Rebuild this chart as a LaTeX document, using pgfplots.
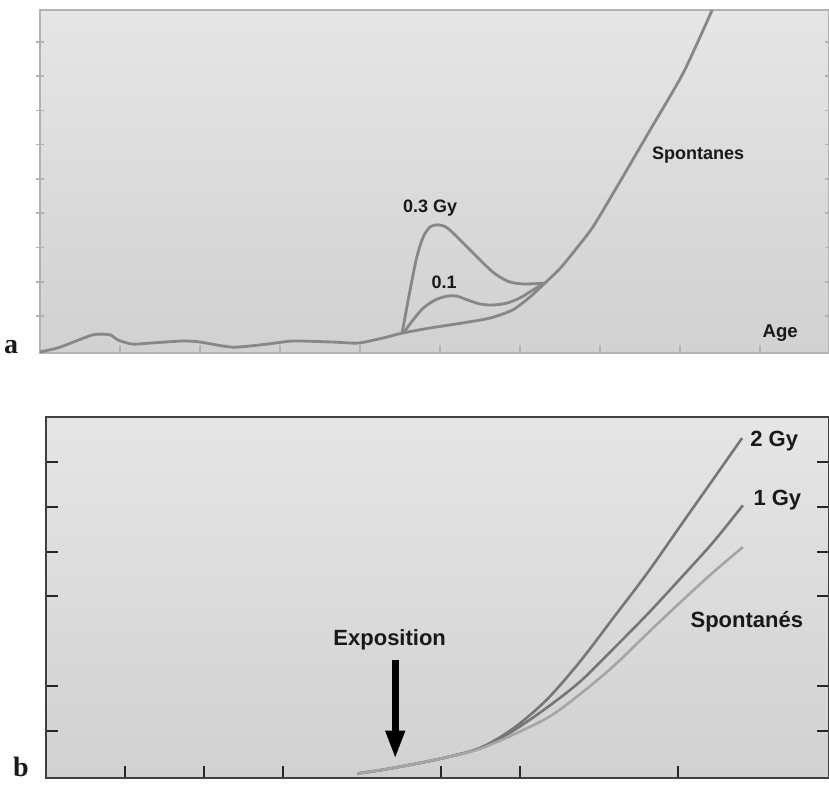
\documentclass[border=0pt]{standalone}
\usepackage{pgfplots}
\pgfplotsset{compat=1.18}
\usepackage{fontspec}
\setmainfont{Liberation Serif}
\newfontfamily\lab{Liberation Sans}
\usetikzlibrary{arrows.meta}
\definecolor{curveA}{RGB}{135,135,135}
\definecolor{curveD}{RGB}{118,118,118}
\definecolor{curveL}{RGB}{165,165,165}
\definecolor{txt}{RGB}{25,25,25}
\begin{document}
\begin{tikzpicture}
\useasboundingbox (0,0) rectangle (414.5pt,392pt);
% ---------------- panel a ----------------
\begin{axis}[
  at={(20pt,215.5pt)}, anchor=south west,
  scale only axis, width=394.5pt, height=171.5pt,
  xmin=0, xmax=9.86, ymin=-0.08, ymax=9.93,
  xtick={1,...,9}, ytick={1,...,9},
  xticklabels={}, yticklabels={},
  xtick pos=bottom, ytick pos=both,
  xtick align=inside, ytick align=center,
  major tick length=4pt,
  axis line style={draw=gray!60, line width=1pt},
  tick style={draw=gray!60, line width=0.8pt},
  axis background/.style={shade, top color=gray!20, bottom color=gray!36},
]
\addplot[curveA, no markers, line width=1.4pt, smooth, tension=0.4] coordinates {
(0,-0.05) (0.25,0.09) (0.66,0.45) (0.875,0.45) (0.975,0.30) (1.15,0.18)
(1.375,0.21) (1.79,0.27) (2.0,0.24) (2.41,0.09) (2.84,0.18) (3.16,0.27)
(3.66,0.24) (3.975,0.21) (4.29,0.36) (4.525,0.50) (4.875,0.65) (5.29,0.80)
(5.625,0.94) (5.91,1.18) (6.125,1.56) (6.31,1.96) (6.5,2.39) (6.69,2.93)
(6.91,3.60) (7.21,4.77) (7.625,6.43) (8.04,8.10) (8.4,9.93)};
\addplot[curveA, no markers, line width=1.4pt, smooth, tension=0.5] coordinates {
(4.525,0.50) (4.625,1.76) (4.71,2.73) (4.79,3.31) (4.875,3.60) (4.975,3.66)
(5.09,3.57) (5.25,3.22) (5.46,2.73) (5.66,2.28) (5.84,2.02) (6.0,1.94)
(6.16,1.94) (6.31,1.96)};
\addplot[curveA, no markers, line width=1.4pt, smooth, tension=0.5] coordinates {
(4.54,0.50) (4.66,0.88) (4.79,1.23) (4.94,1.47) (5.09,1.58) (5.21,1.58)
(5.34,1.47) (5.5,1.35) (5.66,1.32) (5.84,1.38) (6.0,1.53) (6.16,1.76) (6.31,1.96)};
\node[font=\lab\bfseries\fontsize{9}{10}\selectfont, text=txt] at (axis cs:4.875,4.15) {0.3 Gy};
\node[font=\lab\bfseries\fontsize{9}{10}\selectfont, text=txt] at (axis cs:5.05,1.99) {0.1};
\node[font=\lab\bfseries\fontsize{9}{10}\selectfont, text=txt] at (axis cs:8.225,5.70) {Spontanes};
\node[font=\lab\bfseries\fontsize{9.3}{10}\selectfont, text=txt] at (axis cs:9.25,0.50) {Age};
\end{axis}
% ---------------- panel b ----------------
\begin{axis}[
  at={(23pt,3pt)}, anchor=south west,
  scale only axis, width=391.5pt, height=180.5pt,
  xmin=0, xmax=9.91, ymin=-0.05, ymax=8.0,
  xtick={1,2,3,5,6,8}, ytick={1,2,4,5,6,7},
  xticklabels={}, yticklabels={},
  xtick pos=bottom, ytick pos=both,
  tick align=inside,
  major tick length=6pt,
  axis line style={draw=black!75, line width=1pt},
  tick style={draw=black!85, line width=1pt},
  axis background/.style={shade, top color=gray!20, bottom color=gray!36},
]
\addplot[curveD, no markers, line width=1.3pt, smooth] coordinates {
(3.94,0.05) (4.35,0.16) (4.99,0.38) (5.49,0.62) (5.91,1.05) (6.34,1.70)
(6.76,2.55) (7.18,3.52) (7.61,4.52) (8.06,5.65) (8.44,6.60) (8.81,7.53)};
\addplot[curveD, no markers, line width=1.3pt, smooth] coordinates {
(3.94,0.05) (4.35,0.16) (4.99,0.38) (5.49,0.61) (5.91,1.0) (6.34,1.52)
(6.76,2.10) (7.18,2.83) (7.61,3.60) (8.03,4.40) (8.44,5.20) (8.82,6.03)};
\addplot[curveL, no markers, line width=1.3pt, smooth] coordinates {
(3.94,0.05) (4.35,0.16) (4.99,0.38) (5.49,0.60) (6.04,1.02) (6.4,1.35)
(6.76,1.82) (7.18,2.44) (7.61,3.17) (8.03,3.87) (8.44,4.53) (8.82,5.10)};
\node[font=\lab\bfseries\fontsize{11}{12}\selectfont, text=txt] at (axis cs:4.35,3.03) {Exposition};
\draw[-{Triangle[width=9pt,length=14pt]}, line width=3.3pt, black] (axis cs:4.42,2.59) -- (axis cs:4.42,0.38);
\node[font=\lab\bfseries\fontsize{11}{12}\selectfont, text=txt, anchor=west, inner sep=0pt] at (axis cs:8.91,7.46) {2 Gy};
\node[font=\lab\bfseries\fontsize{11}{12}\selectfont, text=txt, anchor=west, inner sep=0pt] at (axis cs:8.95,6.14) {1 Gy};
\node[font=\lab\bfseries\fontsize{11}{12}\selectfont, text=txt] at (axis cs:8.87,3.43) {Spontanés};
\end{axis}
\node[font=\bfseries\fontsize{14}{15}\selectfont, text=txt] at (5.5pt,218.5pt) {a};
\node[font=\bfseries\fontsize{14}{15}\selectfont, text=txt] at (10.5pt,8.5pt) {b};
\end{tikzpicture}
\end{document}
